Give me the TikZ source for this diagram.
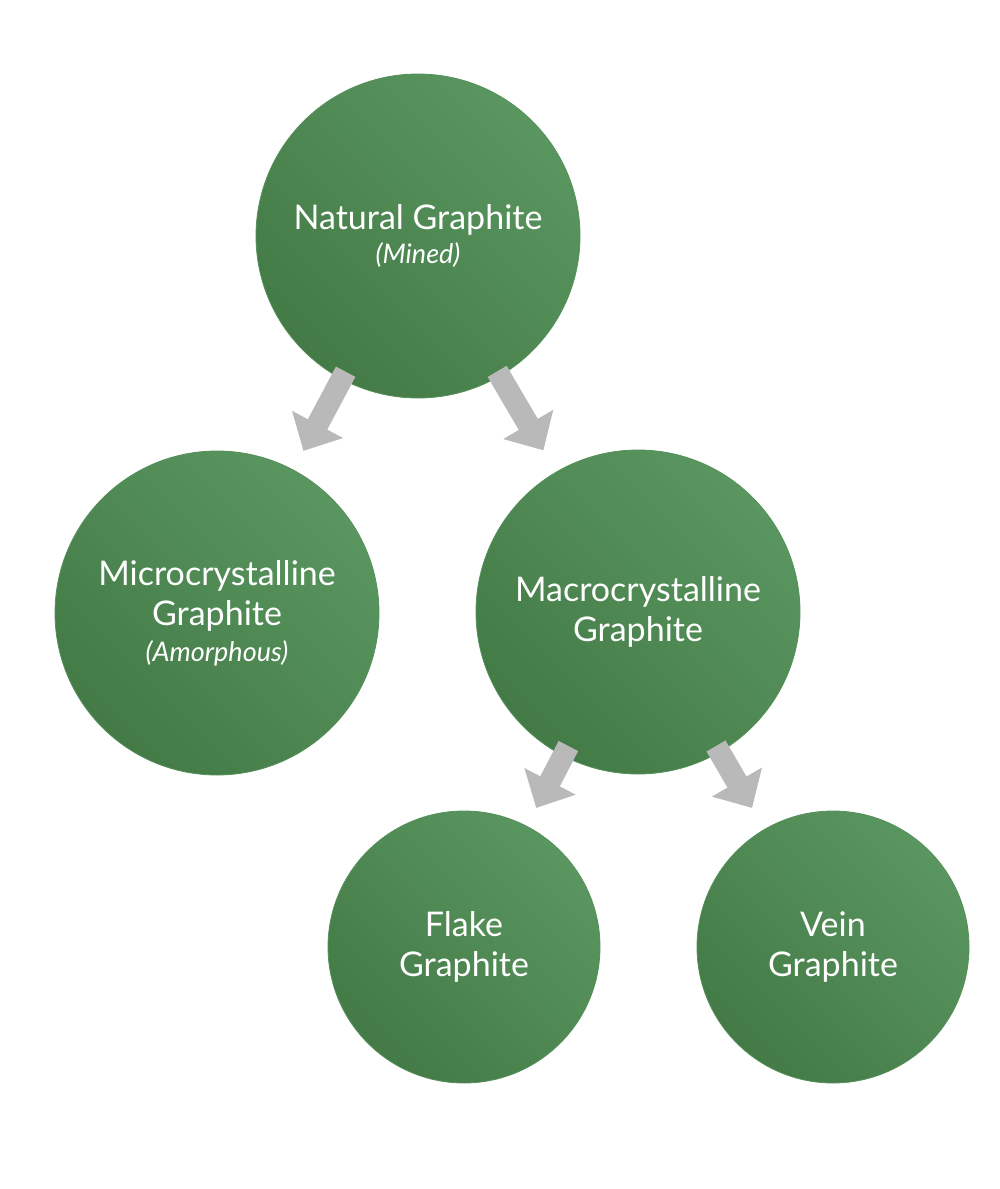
\documentclass[tikz,border=0pt]{standalone}
\usepackage{fontspec}
\setmainfont{Lato}
\usetikzlibrary{calc,arrows.meta}
\definecolor{gtop}{HTML}{5A9660}
\definecolor{gbot}{HTML}{437A46}
\definecolor{arr}{HTML}{B9B9B9}
\tikzset{
  ball/.style={circle,minimum size=#1,inner sep=0pt,left color=gtop,right color=gbot,shading angle=-45,draw=gtop!80!gbot,line width=0.8pt,text=white,align=center,font=\fontsize{34}{40}\selectfont},
  flow/.style={draw=arr,line width=22pt,-{Triangle[width=56pt,length=30pt]}}
}
\begin{document}
\begin{tikzpicture}[x=1pt,y=-1pt]
\useasboundingbox (0,0) rectangle (1000,1189);
\node[ball=324pt] (top) at (418,236) {Natural Graphite\\[-6pt]{\fontsize{27}{32}\selectfont\itshape (Mined)}};
\node[ball=324pt] (micro) at (217,613) {Microcrystalline\\Graphite\\[-4pt]{\fontsize{27}{32}\selectfont\itshape (Amorphous)}};
\node[ball=324pt] (macro) at (638,612) {Macrocrystalline\\Graphite};
\node[ball=272pt] (flake) at (464,947) {Flake\\Graphite};
\node[ball=272pt] (vein) at (833,947) {Vein\\Graphite};
\draw[flow] ($(top)!0.36!(micro)$) -- ($(top)!0.57!(micro)$);
\draw[flow] ($(top)!0.36!(macro)$) -- ($(top)!0.57!(macro)$);
\draw[flow] ($(macro)!0.40!(flake)$) -- ($(macro)!0.585!(flake)$);
\draw[flow] ($(macro)!0.40!(vein)$) -- ($(macro)!0.585!(vein)$);
\end{tikzpicture}
\end{document}
